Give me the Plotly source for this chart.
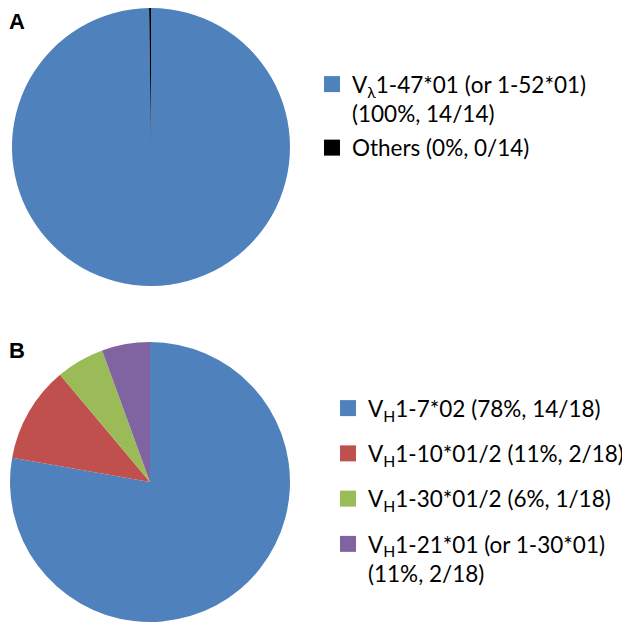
import plotly.graph_objects as go

# panel A: light chain V genes
labels_a = ["V<sub>λ</sub>1-47*01 (or 1-52*01)<br>(100%, 14/14)", "Others (0%, 0/14)"]
counts_a = [14, 0]
colors_a = ["#4F81BD", "#000000"]

# panel B: heavy chain V genes (slice sizes as drawn)
labels_b = [
    "V<sub>H</sub>1-7*02 (78%, 14/18)",
    "V<sub>H</sub>1-10*01/2 (11%, 2/18)",
    "V<sub>H</sub>1-30*01/2 (6%, 1/18)",
    "V<sub>H</sub>1-21*01 (or 1-30*01)<br>(11%, 2/18)",
]
counts_b = [14, 2, 1, 1]
colors_b = ["#4F81BD", "#C0504D", "#9BBB59", "#8064A2"]

# an empty group still shows as a hairline in the original
shown_a = [c if c > 0 else 0.03 for c in counts_a]

fig = go.Figure()

fig.add_trace(go.Pie(values=shown_a, labels=labels_a, sort=False, direction="clockwise",
                     rotation=0, marker=dict(colors=colors_a, line=dict(width=0)),
                     textinfo="none", showlegend=False,
                     domain=dict(x=[0.0063, 0.4476], y=[0.5601, 1.0])))
fig.add_trace(go.Pie(values=counts_b, labels=labels_b, sort=False, direction="clockwise",
                     rotation=0, marker=dict(colors=colors_b, line=dict(width=0)),
                     textinfo="none", showlegend=False,
                     domain=dict(x=[0.0032, 0.4476], y=[0.0285, 0.4715])))

# legend entries (square swatches)
for lab, col in zip(labels_a, colors_a):
    fig.add_trace(go.Scatter(x=[None], y=[None], mode="markers", name=lab, legendgroup=lab,
                             marker=dict(symbol="square", size=16, color=col), legend="legend"))
for lab, col in zip(labels_b, colors_b):
    fig.add_trace(go.Scatter(x=[None], y=[None], mode="markers", name=lab, legendgroup=lab,
                             marker=dict(symbol="square", size=16, color=col), legend="legend2"))

leg_font = dict(family="Lato", size=22.5, color="black")
fig.update_layout(
    width=630, height=632,
    margin=dict(l=0, r=0, t=0, b=0),
    paper_bgcolor="white", plot_bgcolor="white",
    xaxis=dict(visible=False), yaxis=dict(visible=False),
    legend=dict(x=304 / 630, y=1 - 55 / 632, xanchor="left", yanchor="top", font=leg_font,
                traceorder="grouped", tracegroupgap=2, valign="top", bgcolor="rgba(0,0,0,0)"),
    legend2=dict(x=320 / 630, y=1 - 379 / 632, xanchor="left", yanchor="top", font=leg_font,
                 traceorder="grouped", tracegroupgap=13, valign="top", bgcolor="rgba(0,0,0,0)"),
    annotations=[
        dict(text="<b>A</b>", x=0.0, y=1.0, xref="paper", yref="paper", xanchor="left", yanchor="top",
             borderpad=0, showarrow=False, font=dict(family="Liberation Sans", size=22, color="black")),
        dict(text="<b>B</b>", x=0.0, y=1 - 329 / 632, xref="paper", yref="paper", xanchor="left",
             yanchor="top", borderpad=0, showarrow=False,
             font=dict(family="Liberation Sans", size=22, color="black")),
    ],
)

fig.write_html("out.html")
